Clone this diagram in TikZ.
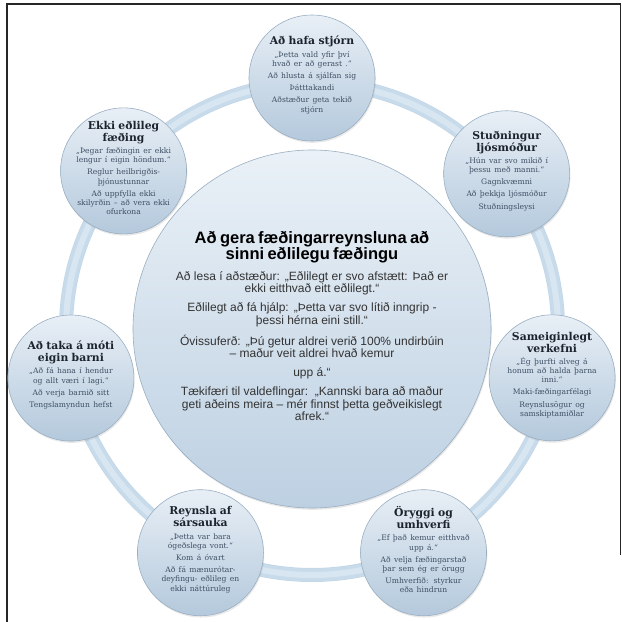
\documentclass[tikz,border=0pt]{standalone}
\usepackage{fontspec}
\setmainfont{DejaVu Serif}
\newfontfamily\hubfont{Liberation Sans}
\usetikzlibrary{shadows}

\definecolor{bubbletop}{HTML}{E8EFF6}
\definecolor{bubblebot}{HTML}{B4C9DC}
\definecolor{bubbleedge}{HTML}{9AAEC2}
\definecolor{hubtop}{HTML}{EAF1F7}
\definecolor{hubbot}{HTML}{BDD0E2}
\definecolor{ringblue}{HTML}{C8DBEB}
\definecolor{ringlight}{HTML}{D8E6F2}
\definecolor{headink}{HTML}{1B232D}
\definecolor{bodyink}{HTML}{3E5064}

% text inside the small circles
\newcommand{\bubblehead}[1]{{\fontsize{10.8}{12}\selectfont\bfseries\color{headink}#1\par}}
\newcommand{\bubbleline}[1]{\vspace{3pt}{\fontsize{7.6}{9.2}\selectfont\color{bodyink}#1\par}}
% text inside the big circle
\newcommand{\hubhead}[1]{{\fontsize{16.5}{16.5}\selectfont\bfseries\color{black}#1\par}}
\newcommand{\hubline}[1]{\vspace{7pt}{\fontsize{12}{12.3}\selectfont\color{black!80}#1\par}}

\begin{document}
\begin{tikzpicture}[
    x=1pt, y=1pt,
    bubble/.style={circle, draw=bubbleedge, line width=0.6pt, top color=bubbletop, bottom color=bubblebot,
      minimum size=126pt, inner sep=0pt, drop shadow={opacity=0.18, shadow xshift=0.8pt, shadow yshift=-1.8pt}},
    hubcircle/.style={bubble, top color=hubtop, bottom color=hubbot, minimum size=358pt},
    bubbletext/.style={text width=124pt, align=center, inner sep=0pt, yshift=3pt},
    hubtext/.style={text width=340pt, align=center, inner sep=0pt, font=\hubfont},
  ]
  \useasboundingbox (-312,-293) rectangle (310,329);
  % frame
  \draw[black!85, line width=1.6pt] (-305,-293) -- (-305,325) -- (308.5,325) -- (308.5,-226);

  % big circle and the ring round it
  \node[hubcircle] (hub) at (0,0) {};
  \draw[ringblue!92!bubbleedge, line width=14pt] (hub) circle[radius=246];
  \draw[ringblue, line width=12.5pt] (hub) circle[radius=246];
  \draw[ringlight, line width=6pt] (hub) circle[radius=246];

  \node[hubtext] (hub-txt) at (0,3) {%
    \hubhead{Að gera fæðingarreynsluna að\\sinni eðlilegu fæðingu}
    \hubline{Að lesa í aðstæður: „Eðlilegt er svo afstætt: Það er\\ekki eitthvað eitt eðlilegt.“}
    \hubline{Eðlilegt að fá hjálp: „Þetta var svo lítið inngrip -\\þessi hérna eini still.“}
    \hubline{Óvissuferð: „Þú getur aldrei verið 100\% undirbúin\\– maður veit aldrei hvað kemur}
    \hubline{upp á.“}
    \hubline{Tækifæri til valdeflingar:\ \ „Kannski bara að maður\\geti aðeins meira – mér finnst þetta geðveikislegt\\afrek.“}};

  % seven themes on the ring
  \node[bubble] (stjorn) at (90:251) {};
  \node[bubbletext] (stjorn-txt) at (stjorn) {%
    \bubblehead{Að hafa stjórn}
    \bubbleline{„Þetta vald yfir því\\hvað er að gerast .“}
    \bubbleline{Að hlusta á sjálfan sig}
    \bubbleline{Þátttakandi}
    \bubbleline{Aðstæður geta tekið\\stjórn}};

  \node[bubble] (ljosmodir) at (38.57:249) {};
  \node[bubbletext] (ljosmodir-txt) at (ljosmodir) {%
    \bubblehead{Stuðningur\\ljósmóður}
    \bubbleline{„Hún var svo mikið í\\þessu með manni.“}
    \bubbleline{Gagnkvæmni}
    \bubbleline{Að þekkja ljósmóður}
    \bubbleline{Stuðningsleysi}};

  \node[bubble] (verkefni) at (-11.5:245) {};
  \node[bubbletext] (verkefni-txt) at (verkefni) {%
    \bubblehead{Sameiginlegt\\verkefni}
    \bubbleline{„Ég þurfti alveg á\\honum að halda þarna\\inni.“}
    \bubbleline{Maki-fæðingarfélagi}
    \bubbleline{Reynslusögur og\\samskiptamiðlar}};

  \node[bubble] (oryggi) at (-63.5:250) {};
  \node[bubbletext] (oryggi-txt) at (oryggi) {%
    \bubblehead{Öryggi og\\umhverfi}
    \bubbleline{„Ef það kemur eitthvað\\upp á.“}
    \bubbleline{Að velja fæðingarstað\\þar sem ég er örugg}
    \bubbleline{Umhverfið: styrkur\\eða hindrun}};

  \node[bubble] (sarsauki) at (-116.5:250) {};
  \node[bubbletext] (sarsauki-txt) at (sarsauki) {%
    \bubblehead{Reynsla af\\sársauka}
    \bubbleline{„Þetta var bara\\ógeðslega vont.“}
    \bubbleline{Kom á óvart}
    \bubbleline{Að fá mænurótar-\\deyfingu- eðlileg en\\ekki náttúruleg}};

  \node[bubble] (barn) at (-168.5:246) {};
  \node[bubbletext] (barn-txt) at (barn) {%
    \bubblehead{Að taka á móti\\eigin barni}
    \bubbleline{„Að fá hana í hendur\\og allt væri í lagi.“}
    \bubbleline{Að verja barnið sitt}
    \bubbleline{Tengslamyndun hefst}};

  \node[bubble] (ekki) at (140:246) {};
  \node[bubbletext] (ekki-txt) at (ekki) {%
    \bubblehead{Ekki eðlileg\\fæðing}
    \bubbleline{„Þegar fæðingin er ekki\\lengur í eigin höndum.“}
    \bubbleline{Reglur heilbrigðis-\\þjónustunnar}
    \bubbleline{Að uppfylla ekki\\skilyrðin – að vera ekki\\ofurkona}};
\end{tikzpicture}
\end{document}
